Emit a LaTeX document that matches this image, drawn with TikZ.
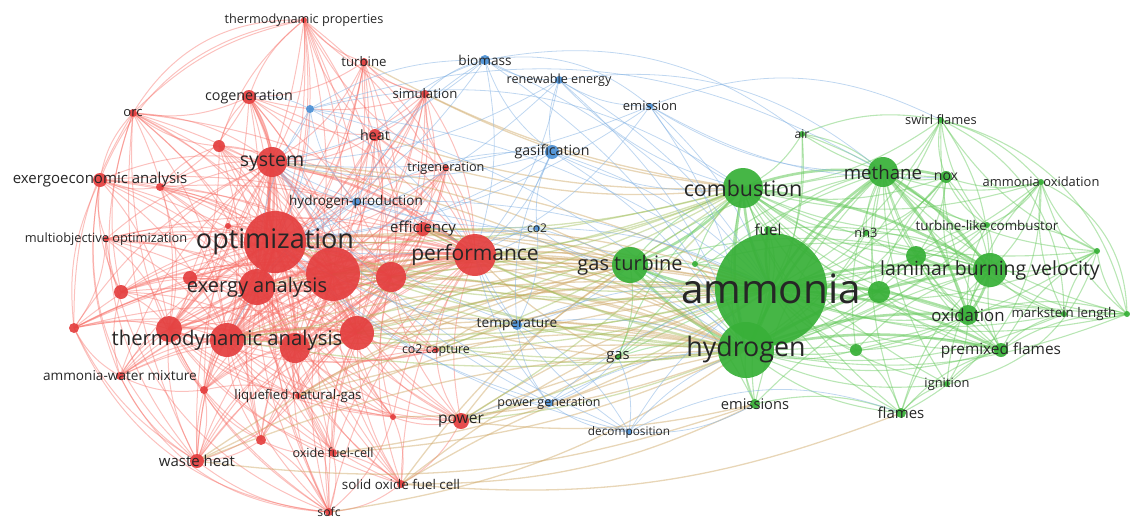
\documentclass[tikz,border=0pt]{standalone}
\usepackage{fontspec}
\setmainfont{Open Sans}
\usepackage{tikz}

\definecolor{vred}{RGB}{228,64,64}
\definecolor{vgreen}{RGB}{56,176,56}
\definecolor{vblue}{RGB}{78,146,214}
\definecolor{ered}{RGB}{246,108,100}
\definecolor{egreen}{RGB}{100,200,90}
\definecolor{eblue}{RGB}{128,176,226}
\definecolor{emix}{RGB}{204,164,96}
\definecolor{emixg}{RGB}{160,190,90}

\pgfdeclarelayer{background}
\pgfdeclarelayer{foreground}
\pgfsetlayers{background,main,foreground}

\begin{document}
\begin{tikzpicture}[x=1pt, y=-1pt,
		kw/.style={circle, draw=none, inner sep=0pt, fill opacity=.93},
		kwlabel/.style={inner sep=0pt, text=black!85},
		redE/.style={draw=ered, line width=1pt, opacity=.42},
		redT/.style={draw=ered, line width=2.4pt, opacity=.5},
		greenE/.style={draw=egreen, line width=1.1pt, opacity=.45},
		greenT/.style={draw=egreen, line width=2.6pt, opacity=.55},
		blueE/.style={draw=eblue, line width=.8pt, opacity=.5},
		mixE/.style={draw=emix, line width=1.3pt, opacity=.45},
		mixG/.style={draw=emixg, line width=1.3pt, opacity=.45},
	]
	\useasboundingbox (0,0) rectangle (1130,525);

	%Nodes
	\foreach \n/\x/\y/\r/\f/\c/\t in {
		tprop/304/20/3/12.7/vred/thermodynamic properties,
		turb/364/62/4/13.2/vred/turbine,
		cogen/249/97/7/14.3/vred/cogeneration,
		orc/133/113/4/13/vred/orc,
		sim/425/94/4/13.2/vred/simulation,
		heat/375/135/6/14.2/vred/heat,
		r1/219/146/6/10/vred/{},
		sys/272/162/15/19.5/vred/system,
		execo/100/180/7/15/vred/exergoeconomic analysis,
		r2/160/187/4/10/vred/{},
		trig/446/168/3/12.7/vred/trigeneration,
		eff/423/229/7/15/vred/efficiency,
		r3/228/226/3/10/vred/{},
		moo/106/239/3/12.8/vred/multiobjective optimization,
		r4/333/274/27/10/vred/{},
		perf/475/255/21/21/vred/performance,
		r5/391/277/15/10/vred/{},
		opt/275/242/31/27/vred/optimization,
		r6/190/278/7/10/vred/{},
		r7/121/292/7/10/vred/{},
		exa/257/287/18/20/vred/exergy analysis,
		r8/74/328/5/10/vred/{},
		r9/169/329/13/10/vred/{},
		r10/295/348/15/10/vred/{},
		r11/357/333/17/10/vred/{},
		tda/227/340/17/20.3/vred/thermodynamic analysis,
		cocap/436/350/3/12.4/vred/co2 capture,
		amw/120/376/4/13.6/vred/ammonia-water mixture,
		r12/204/390/4/10/vred/{},
		lng/298/396/3/13.3/vred/liquefied natural-gas,
		power/461/421/8/15.6/vred/power,
		r13/393/417/3/10/vred/{},
		r14/261/440/5/10/vred/{},
		ofc/333/453/4/12.6/vred/oxide fuel-cell,
		wheat/197/461/7/15/vred/waste heat,
		sofcl/401/484/4/13.4/vred/solid oxide fuel cell,
		sofc/329/512/4/12.2/vred/sofc,
		bio/485/60/5/13.6/vblue/biomass,
		ren/559/80/4/12.6/vblue/renewable energy,
		emis/650/106/3/13/vblue/emission,
		gasif/552/152/7/14.2/vblue/gasification,
		co2/537/228/3/12/vblue/co2,
		temp/517/325/5/13.7/vblue/temperature,
		pgen/549/403/4/12.5/vblue/power generation,
		decomp/629/432/3/11.8/vblue/decomposition,
		b1/310/109/4/10/vblue/{},
		h2p/356/202/4/13.5/vblue/hydrogen-production,
		comb/743/188/20/21.4/vgreen/combustion,
		air/802/134/3/12/vgreen/air,
		meth/883/172/15/18.7/vgreen/methane,
		swirl/941/120/3/12.9/vgreen/swirl flames,
		nox/946/177/6/14/vgreen/nox,
		amox/1041/182/3/12.9/vgreen/ammonia oxidation,
		fuel/768/230/4/15.2/vgreen/fuel,
		nh3/866/233/3/12.8/vgreen/nh3,
		tlc/987/225/3/13.4/vgreen/turbine-like combustor,
		g1/916/256/10/10/vgreen/{},
		lbv/990/270/17/19.5/vgreen/laminar burning velocity,
		g2/1097/251/3/10/vgreen/{},
		gt/630/265/18/20/vgreen/gas turbine,
		g3/695/264/3/10/vgreen/{},
		g4/879/292/11/10/vgreen/{},
		h2/746/350/28/26.8/vgreen/hydrogen,
		amm/771/289/56/40.5/vgreen/ammonia,
		oxid/968/315/10/16.8/vgreen/oxidation,
		mark/1064/314/3/13.3/vgreen/markstein length,
		g5/1127/314/3/10/vgreen/{},
		g6/856/350/6/10/vgreen/{},
		pmf/1001/350/7/15.4/vgreen/premixed flames,
		gas/618/357/3/14.8/vgreen/gas,
		ign/947/384/3/12.9/vgreen/ignition,
		emiss/755/404/5/14.7/vgreen/emissions,
		flames/901/413/5/15/vgreen/flames%
	}{
		\node[kw, fill=\c, minimum size=2*\r pt] (\n) at (\x,\y) {};
		\begin{pgfonlayer}{foreground}
			\node[kwlabel, font=\fontsize{\f}{\f}\selectfont] (\n-l) at (\n) {\t};
		\end{pgfonlayer}
	}

	%Lines
	\begin{pgfonlayer}{background}
		% red cluster
		\foreach \a in {tprop,turb,cogen,orc,sim,heat,r1,execo,r2,trig,moo,r3,r6,r7,r8,cocap,amw,r12,lng,r13,r14,ofc,wheat,sofcl,sofc,power,eff}
			\foreach \b in {opt,sys,exa,tda,r4,r10,perf,r5,r9,r11}
				\draw[redE] (\a.center) to[bend left=16] (\b.center);
		\foreach \a/\b in {opt/sys,opt/exa,opt/tda,opt/r4,opt/perf,opt/r10,sys/exa,sys/tda,sys/r4,sys/perf,exa/tda,exa/r4,exa/perf,exa/r10,tda/r4,tda/r10,tda/perf,r4/perf,r4/r10,r10/perf,opt/r5,exa/r9,tda/r9,opt/r11,tda/r11,r4/r11,eff/perf,cogen/sys,r5/perf,r9/opt,r5/r11,r9/r10,r11/r10,r5/exa}
			\draw[redT] (\a.center) to[bend left=12] (\b.center);
		\foreach \a/\b in {tprop/cogen,tprop/turb,tprop/heat,tprop/sim,tprop/orc,tprop/r1,tprop/trig,orc/execo,orc/cogen,orc/r1,orc/r7,orc/r8,orc/wheat,execo/moo,execo/r7,execo/r8,execo/amw,r8/amw,r8/wheat,r8/moo,r7/amw,amw/wheat,wheat/r12,wheat/r14,wheat/sofc,wheat/lng,sofc/ofc,sofc/sofcl,sofc/r14,sofc/lng,sofc/r13,sofcl/ofc,sofcl/power,sofcl/r13,ofc/lng,cogen/r1,cogen/heat,cogen/turb,cogen/sim,heat/sim,heat/trig,turb/sim,turb/heat,sim/trig,eff/trig,eff/sim,heat/eff,moo/r7,moo/r3,amw/r12,lng/r12,cocap/power,cocap/lng,r6/r7,r6/r3,execo/r2,r2/cogen,r1/r2,r13/power,r14/ofc,r12/r14}
			\draw[redE] (\a.center) to[bend right=16] (\b.center);
		\foreach \a/\b in {orc/wheat,execo/wheat,moo/sofc,amw/sofc,r8/sofc,tprop/execo,orc/sofc,tprop/orc}
			\draw[redE] (\a.center) to[bend right=30] (\b.center);
		% green cluster
		\foreach \a in {air,swirl,nox,amox,fuel,nh3,tlc,g1,g2,g3,g4,oxid,mark,g5,g6,pmf,gas,ign,emiss,flames,gt}
			\foreach \b in {amm,h2,comb,meth,lbv}
				\draw[greenE] (\a.center) to[bend left=16] (\b.center);
		\foreach \a/\b in {amm/h2,amm/comb,amm/meth,amm/lbv,h2/comb,h2/meth,h2/lbv,comb/meth,comb/lbv,meth/lbv,amm/gt,h2/gt,amm/g4,amm/oxid,amm/fuel,lbv/oxid,lbv/g1,meth/nox,h2/pmf,amm/pmf,h2/oxid,comb/gt,meth/oxid}
			\draw[greenT] (\a.center) to[bend left=12] (\b.center);
		\foreach \a/\b in {swirl/nox,swirl/air,swirl/tlc,swirl/pmf,nox/amox,nox/tlc,nox/oxid,amox/g2,amox/oxid,amox/mark,amox/g5,g2/mark,g2/pmf,g2/tlc,mark/g5,mark/oxid,mark/pmf,g5/oxid,g5/pmf,pmf/oxid,pmf/ign,pmf/flames,ign/flames,ign/oxid,flames/emiss,flames/g6,g6/oxid,g1/oxid,g1/nox,tlc/oxid,tlc/g1,nh3/g1,nh3/nox,air/nox,gas/gt,emiss/gt,swirl/g2,amox/swirl,g2/g5,tlc/amox,pmf/g6,oxid/flames,g4/oxid,g4/pmf,g1/pmf,nox/g4}
			\draw[greenE] (\a.center) to[bend right=16] (\b.center);
		\foreach \a/\b in {amox/g5,swirl/g5,g2/ign,amox/flames,swirl/mark}
			\draw[greenE] (\a.center) to[bend left=32] (\b.center);
		% between red and green
		\foreach \a in {opt,exa,tda,perf,sys,r4,r5,eff,power,cocap,sofcl,r10,r11,wheat,lng}
			\foreach \b in {amm,h2,gt}
				\draw[mixE] (\a.center) to[bend left=10] (\b.center);
		\foreach \a in {amm,h2,comb}
			\foreach \b in {perf,opt,r4,r5,eff,power,cocap,r11,tda}
				\draw[mixG] (\a.center) to[bend left=8] (\b.center);
		\foreach \a/\b in {turb/comb,sim/comb,heat/comb,trig/comb,power/gas,power/emiss,perf/gas,r4/gas,ofc/h2,r13/h2}
			\draw[mixE] (\a.center) to[bend right=10] (\b.center);
		\foreach \a/\b in {sofc/h2,wheat/emiss,sofcl/flames,ofc/amm,sofcl/emiss}
			\draw[mixE] (\a.center) to[bend right=13] (\b.center);
		% blue cluster
		\foreach \a in {bio,ren,emis,gasif,co2,temp,pgen,decomp,b1,h2p}
			\foreach \b in {amm,h2,opt,perf,sys}
				\draw[blueE] (\a.center) to[bend left=14] (\b.center);
		\foreach \a/\b in {bio/ren,bio/gasif,bio/b1,bio/h2p,ren/gasif,ren/emis,gasif/co2,gasif/h2p,emis/comb,emis/meth,emis/nox,b1/h2p,b1/cogen,h2p/co2,temp/pgen,pgen/decomp,decomp/temp,temp/co2,gasif/temp,decomp/gas,pgen/power,bio/heat,bio/sim,ren/comb,gasif/comb,co2/gt,temp/gt,decomp/emiss,pgen/gas,h2p/exa,h2p/tda,b1/exa}
			\draw[blueE] (\a.center) to[bend right=16] (\b.center);
		\foreach \a/\b in {b1/meth,bio/air,ren/meth,emis/swirl,bio/emis,b1/comb,decomp/flames}
			\draw[blueE] (\a.center) to[bend left=24] (\b.center);
	\end{pgfonlayer}

\end{tikzpicture}
\end{document}
